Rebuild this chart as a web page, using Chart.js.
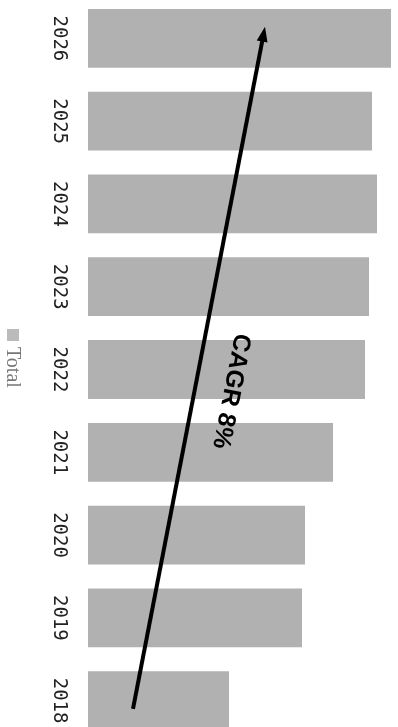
<!DOCTYPE html>
<html>
<head>
<meta charset="utf-8">
<script src="https://cdn.jsdelivr.net/npm/chart.js@4/dist/chart.umd.min.js"></script>
<style>
  html, body { margin: 0; padding: 0; background: #fff; overflow: hidden; }
  #wrap { position: absolute; left: 0; top: -3px; width: 398px; height: 745px; }
</style>
</head>
<body>
<div id="wrap"><canvas id="barChart"></canvas></div>
<script>
// years and totals (arbitrary units)
var years = ['2018', '2019', '2020', '2021', '2022', '2023', '2024', '2025', '2026'];
var totals = [141, 214, 217, 245, 277, 281, 289, 284, 303];
var seriesName = 'Total';
var cagrText = 'CAGR 8%';

// draws rotated year labels, the legend and the CAGR arrow
var extras = {
  id: 'extras',
  afterDatasetsDraw: function(chart) {
    var ctx = chart.ctx;
    var xs = chart.scales.x, ys = chart.scales.y;

    // year labels, rotated clockwise
    ctx.save();
    ctx.fillStyle = '#222';
    ctx.font = '19px "DejaVu Sans Mono"';
    ctx.textAlign = 'center';
    ctx.textBaseline = 'middle';
    years.forEach(function(y, i) {
      ctx.save();
      ctx.translate(59, ys.getPixelForValue(i));
      ctx.rotate(Math.PI / 2);
      ctx.fillText(y, 0, 0);
      ctx.restore();
    });
    ctx.restore();

    // legend
    ctx.save();
    ctx.translate(13, 370);
    ctx.rotate(Math.PI / 2);
    ctx.fillStyle = '#bbb';
    ctx.fillRect(-38, -6, 12, 12);
    ctx.fillStyle = '#777';
    ctx.font = '20px "Liberation Serif"';
    ctx.textAlign = 'left';
    ctx.textBaseline = 'middle';
    ctx.fillText(seriesName, -20, 1);
    ctx.restore();

    // arrow
    var x0 = xs.getPixelForValue(45), y0 = ys.getPixelForValue(-0.1);
    var x1 = xs.getPixelForValue(177), y1 = ys.getPixelForValue(8.14);
    var ang = Math.atan2(y1 - y0, x1 - x0);
    var head = 16;
    ctx.save();
    ctx.strokeStyle = '#000';
    ctx.fillStyle = '#000';
    ctx.lineWidth = 4;
    ctx.beginPath();
    ctx.moveTo(x0, y0);
    ctx.lineTo(x1 - Math.cos(ang) * head * 0.8, y1 - Math.sin(ang) * head * 0.8);
    ctx.stroke();
    ctx.beginPath();
    ctx.moveTo(x1, y1);
    ctx.lineTo(x1 - head * Math.cos(ang - 0.35), y1 - head * Math.sin(ang - 0.35));
    ctx.lineTo(x1 - head * Math.cos(ang + 0.35), y1 - head * Math.sin(ang + 0.35));
    ctx.closePath();
    ctx.fill();
    ctx.restore();

    // CAGR label along the arrow
    ctx.save();
    ctx.translate(xs.getPixelForValue(143), ys.getPixelForValue(3.74));
    ctx.rotate(ang + Math.PI);
    ctx.font = 'bold 25px "Liberation Sans"';
    ctx.fillStyle = '#000';
    ctx.textAlign = 'center';
    ctx.textBaseline = 'middle';
    ctx.fillText(cagrText, 0, 0);
    ctx.restore();
  }
};

var ctx = document.getElementById('barChart').getContext('2d');
var chartInstance = new Chart(ctx, {
  type: 'bar',
  data: {
    labels: years,
    datasets: [{
      label: seriesName,
      data: totals,
      backgroundColor: '#b1b1b1',
      borderWidth: 0,
      barPercentage: 0.71,
      categoryPercentage: 1
    }]
  },
  options: {
    indexAxis: 'y',
    responsive: true,
    maintainAspectRatio: false,
    animation: false,
    layout: { padding: { left: 88, right: 0, top: 0, bottom: 0 } },
    plugins: { legend: { display: false }, tooltip: { enabled: false } },
    scales: {
      x: { display: false, min: 0, max: 310 },
      y: { display: false, reverse: true }
    }
  },
  plugins: [extras]
});
</script>
</body>
</html>
